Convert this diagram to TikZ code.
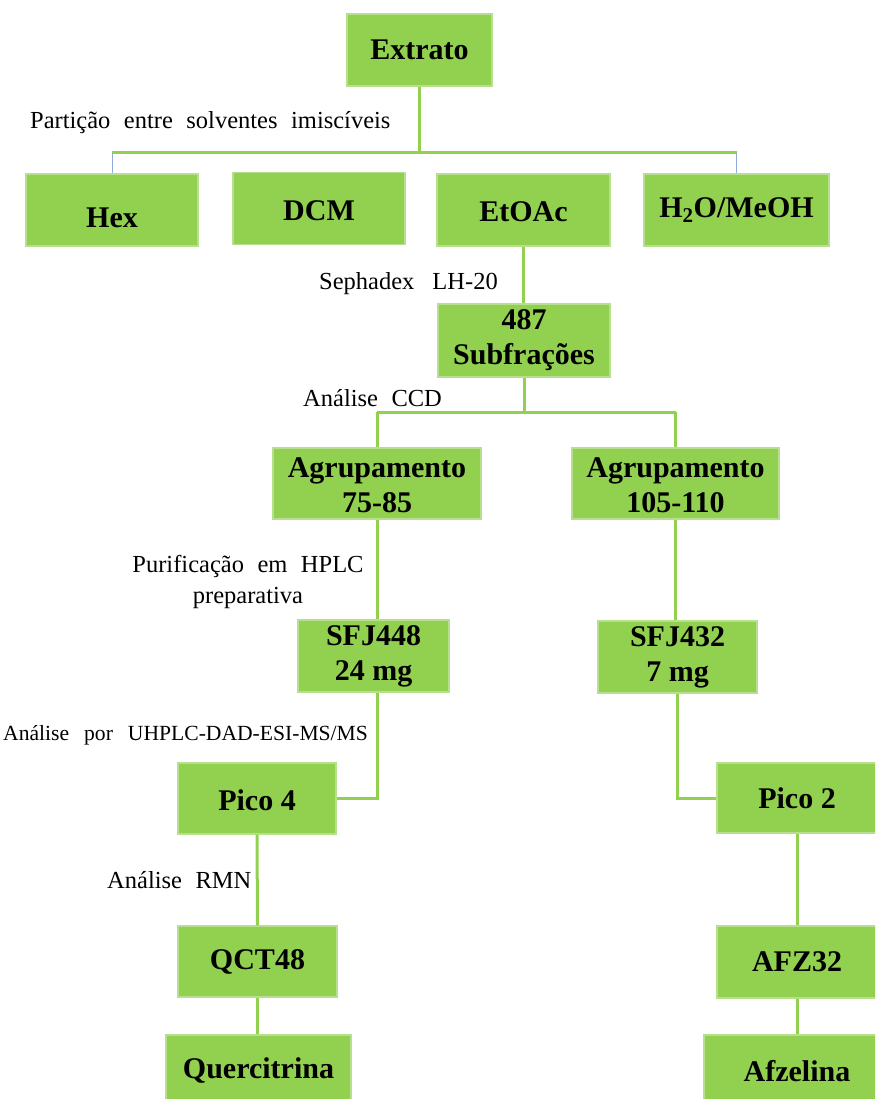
\documentclass[tikz,border=0pt]{standalone}
\usepackage{fontspec}
\setmainfont{Liberation Serif}
\usetikzlibrary{calc,positioning}
\definecolor{fracgreen}{HTML}{92D050}
\definecolor{fracedge}{HTML}{B6E08F}
\definecolor{splitblue}{HTML}{8FAADC}
\newcommand\lowered[2]{\raisebox{-#1pt}[\height][\depth]{#2}}
\tikzset{
	flowchart/.style={
		x=1pt, y=-1pt,
		box/.style={fill=fracgreen, draw=fracedge, line width=1.2pt, inner sep=0pt,
			align=center, font=\fontsize{30}{35}\selectfont\bfseries},
		boxsize/.style 2 args={minimum width=##1pt, minimum height=##2pt},
		steplabel/.style={inner sep=0pt, align=center, font=\fontsize{24.5}{31}\selectfont,
			wordgap=13.5},
		wordgap/.style={execute at begin node={\spaceskip=##1pt\relax}},
		wire/.style={draw=fracgreen, line width=3pt},
		thinwire/.style={draw=splitblue, line width=1pt}
	}
}

\begin{document}
\begin{tikzpicture}[flowchart]
	\clip (0,0) rectangle (875,1099);
	% fractions
	\node[box, boxsize={145}{72}] (extrato) at (419.5,50) {Extrato};
	\node[box, boxsize={172}{72}] (hex) at (112,210) {\lowered{8}{Hex}};
	\node[box, boxsize={172}{72}] (dcm) at (319,208.5) {\lowered{2}{DCM}};
	\node[box, boxsize={173}{72}] (etoac) at (523.5,210) {\lowered{2}{EtOAc}};
	\node[box, boxsize={185}{72}] (water) at (736.5,210) {H\textsubscript{2}O/MeOH};
	\node[box, boxsize={172}{73}] (sub) at (524,340.5) {487\\Subfrações};
	\node[box, boxsize={208}{71}] (agrA) at (377,483.5) {\lowered{2}{Agrupamento}\\\lowered{2}{75-85}};
	\node[box, boxsize={207}{71}] (agrB) at (675.5,483.5) {\lowered{2}{Agrupamento}\\\lowered{2}{105-110}};
	\node[box, boxsize={151}{72}] (sfjA) at (373.5,656) {SFJ448\\24 mg};
	\node[box, boxsize={159}{72}] (sfjB) at (677.5,657) {SFJ432\\7 mg};
	\node[box, boxsize={158}{71}] (picoA) at (257,798.5) {\lowered{2}{Pico 4}};
	\node[box, boxsize={160}{70}] (picoB) at (797,798) {Pico 2};
	\node[box, boxsize={159}{71}] (qct) at (257.5,961.5) {QCT48};
	\node[box, boxsize={185}{72}] (querc) at (258.5,1071) {Quercitrina};
	\node[box, boxsize={160}{72}] (afz) at (797,962) {AFZ32};
	\node[box, boxsize={186}{72}] (afzel) at (797,1071) {Afzelina};

	% partition
	\coordinate (split1) at (extrato.south |- 0,153);
	\coordinate (hexup) at (hex.north |- split1);
	\coordinate (waterup) at (water.north |- split1);
	\draw[wire] (extrato) -- (split1);
	\draw[wire] (hexup) -- (waterup);
	\draw[thinwire] (hexup) -- (hex.north);
	\draw[thinwire] (waterup) -- (water.north);

	\draw[wire] (etoac.south) -- (etoac.south |- sub.north);
	\coordinate (split2) at (sub.south |- 0,412);
	\draw[wire] (sub.south) -- (split2);
	\draw[wire] (agrA.north |- split2) -- (agrB.north |- split2);
	\draw[wire] (agrA.north |- split2) -- (agrA.north);
	\draw[wire] (agrB.north |- split2) -- (agrB.north);

	% left branch
	\draw[wire] (agrA.south) -- (agrA.south |- sfjA.north);
	\draw[wire] (agrA.south |- sfjA.south) |- (picoA.east);
	\draw[wire] (picoA.south) -- (qct.north);
	\draw[wire] (qct.south) -- (qct.south |- querc.north);
	% right branch
	\draw[wire] (agrB.south) -- (agrB.south |- sfjB.north);
	\draw[wire] (sfjB.south) |- (picoB.west);
	\draw[wire] (picoB.south) -- (afz.north);
	\draw[wire] (afz.south) -- (afzel.north);

	% steps
	\node[steplabel, anchor=base west] (lpart) at (30,129) {Partição entre solventes imiscíveis};
	\node[steplabel, wordgap=18, anchor=base east] (lseph) at (498,289) {Sephadex LH-20};
	\node[steplabel, anchor=base west] (lccd) at (303,406) {Análise CCD};
	\node[steplabel] (lhplc) at (248,582) {Purificação em HPLC\\preparativa};
	\node[steplabel, font=\fontsize{21.6}{27}\selectfont, wordgap=15, anchor=base west]
		(lms) at (3,740) {Análise por UHPLC-DAD-ESI-MS/MS};
	\node[steplabel, anchor=base west] (lrmn) at (107,888) {Análise RMN};
\end{tikzpicture}
\end{document}
